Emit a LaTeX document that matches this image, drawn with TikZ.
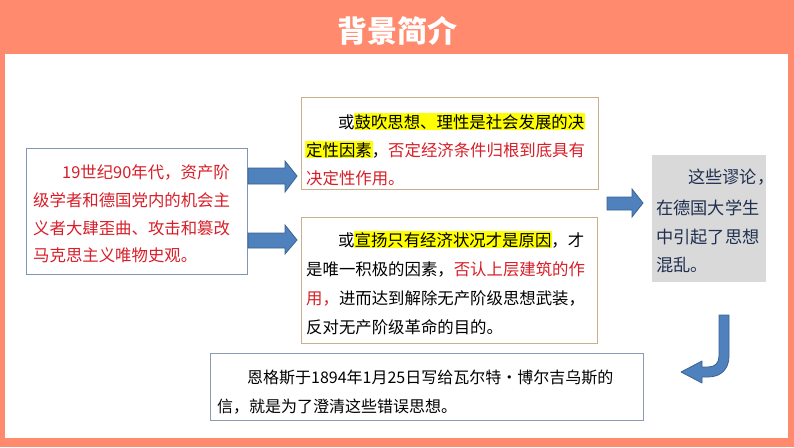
\documentclass[tikz,border=0pt]{standalone}
\usepackage{fontspec}
\setmainfont{Noto Sans CJK SC}
\usetikzlibrary{calc}
\definecolor{bgorange}{HTML}{FF8A6D}
\definecolor{txtred}{HTML}{D81E28}
\definecolor{hlyellow}{HTML}{FFFF00}
\definecolor{arrowblue}{HTML}{4F81BD}
\definecolor{arrowedge}{HTML}{3A6395}
\definecolor{leftedge}{HTML}{7F97B5}
\definecolor{tanedge}{HTML}{CDAE8A}
\definecolor{graybox}{HTML}{D9D9D9}
\definecolor{navytxt}{HTML}{1F2F4F}
\definecolor{botedge}{HTML}{8A9BB2}
\newcommand\hlmark[1]{\hspace*{-1pt}{\setlength\fboxsep{1pt}\colorbox{hlyellow}{#1}}\hspace*{-1pt}}
\begin{document}
\begin{tikzpicture}[x=1pt,y=-1pt,
  boxline/.style={line width=0.8pt},
  txt/.style={anchor=base west,inner sep=0pt,font=\fontsize{16.4}{20}\selectfont},
  blockarrow/.style={fill=arrowblue,draw=arrowedge,line width=0.8pt,line join=miter}]
\useasboundingbox (0,0) rectangle (794,447);
\fill[bgorange] (0,0) rectangle (794,447);
\fill[white] (5,54) rectangle (788,438);
\node[font=\fontsize{30}{34}\selectfont\bfseries,text=white,inner sep=0pt] (title) at (397,31) {背景简介};

% left box
\draw[boxline,draw=leftedge,fill=white] (26,148) rectangle (247,274);
\node[txt,text=txtred] (a1) at (62,178) {19世纪90年代，资产阶};
\node[txt,text=txtred] (a2) at (33,206) {级学者和德国党内的机会主};
\node[txt,text=txtred] (a3) at (33,234) {义者大肆歪曲、攻击和篡改};
\node[txt,text=txtred] (a4) at (33,261) {马克思主义唯物史观。};

% arrows from left box
\draw[blockarrow] (248,168) -- (285,168) -- (285,161) -- (297,176) -- (285,192) -- (285,184) -- (248,184) -- cycle;
\draw[blockarrow] (248,233) -- (285,233) -- (285,225) -- (297,240) -- (285,254) -- (285,248) -- (248,248) -- cycle;

% top middle box
\draw[boxline,draw=tanedge,fill=white] (301,97) rectangle (598,189);
\node[txt] (b1) at (338,128) {或\hlmark{鼓吹思想、理性是社会发展的决}};
\node[txt] (b2) at (306,156) {\hlmark{定性因素}，\textcolor{txtred}{否定经济条件归根到底具有}};
\node[txt,text=txtred] (b3) at (306,184) {决定性作用。};

% bottom middle box
\draw[boxline,draw=tanedge,fill=white] (301,217) rectangle (597,343);
\node[txt] (c1) at (338,246) {或\hlmark{宣扬只有经济状况才是原因}，才};
\node[txt] (c2) at (306,275) {是唯一积极的因素，\textcolor{txtred}{否认上层建筑的作}};
\node[txt] (c3) at (306,304) {\textcolor{txtred}{用，}进而达到解除无产阶级思想武装，};
\node[txt] (c4) at (306,333) {反对无产阶级革命的目的。};

% right arrow
\draw[blockarrow] (607,197) -- (632,197) -- (632,189) -- (643,203) -- (632,217) -- (632,210) -- (607,210) -- cycle;

% gray box
\fill[graybox] (652,155) rectangle (766,282);
\node[txt,text=navytxt,font=\fontsize{17.2}{20}\selectfont] (d1) at (688,183) {这些谬论，};
\node[txt,text=navytxt,font=\fontsize{17.2}{20}\selectfont] (d2) at (656,214) {在德国大学生};
\node[txt,text=navytxt,font=\fontsize{17.2}{20}\selectfont] (d3) at (656,243) {中引起了思想};
\node[txt,text=navytxt,font=\fontsize{17.2}{20}\selectfont] (d4) at (656,271) {混乱。};

% bent arrow
\draw[blockarrow,line join=round] (719,315) -- (729,315) -- (729,356)
  .. controls (729,369) and (721,377) .. (708,377)
  -- (702,377) -- (702,383) -- (681,372) -- (702,361) -- (702,367) -- (708,367)
  .. controls (715,367) and (719,363) .. (719,356) -- cycle;

% bottom box
\draw[boxline,draw=botedge,fill=white] (210,353) rectangle (643,420);
\node[txt,font=\fontsize{16}{20}\selectfont] (e1) at (247,383) {恩格斯于1894年1月25日写给瓦尔特・博尔吉乌斯的};
\node[txt,font=\fontsize{16}{20}\selectfont] (e2) at (217,412) {信，就是为了澄清这些错误思想。};
\end{tikzpicture}
\end{document}
